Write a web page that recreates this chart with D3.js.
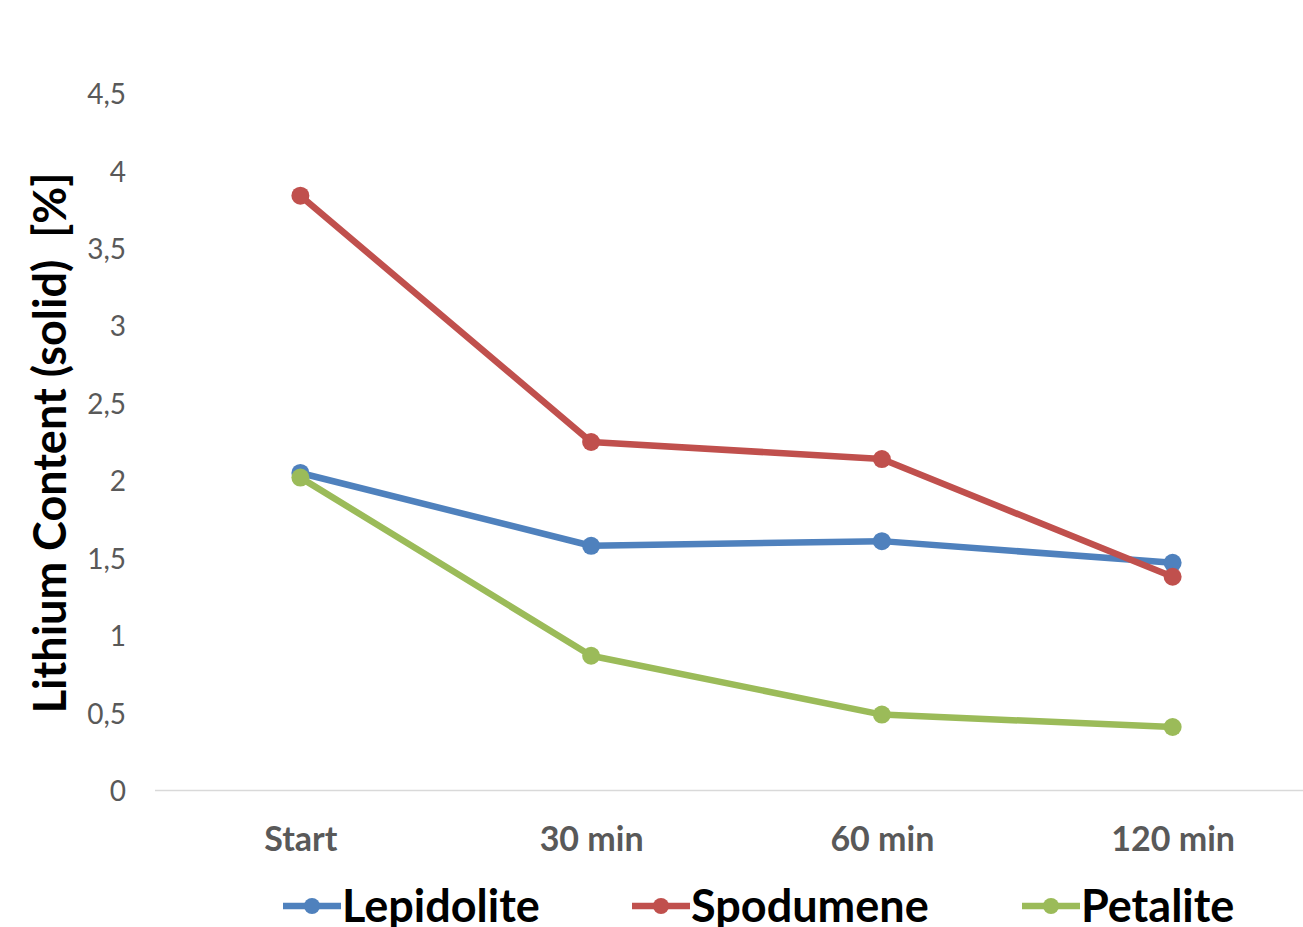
<!DOCTYPE html>
<html>
<head>
<meta charset="utf-8">
<script src="https://cdn.jsdelivr.net/npm/d3@7"></script>
<style>
  html, body { margin: 0; padding: 0; background: #ffffff; }
  svg { display: block; }
</style>
</head>
<body>
<svg id="chart" width="1303" height="927"></svg>
<script>
// Time steps of the leaching experiment
const categories = ["Start", "30 min", "60 min", "120 min"];

// Lithium content of the solid residue [%]
const lepidolite = [2.05, 1.58, 1.61, 1.47];
const spodumene  = [3.84, 2.25, 2.14, 1.38];
const petalite   = [2.02, 0.87, 0.49, 0.41];

const yTicks = [0, 0.5, 1, 1.5, 2, 2.5, 3, 3.5, 4, 4.5];

const seriesNames = ["Lepidolite", "Spodumene", "Petalite"];
const seriesColors = ["#4F81BD", "#C0504D", "#9BBB59"];
const seriesValues = [lepidolite, spodumene, petalite];

const svg = d3.select("#chart");

const x = d3.scalePoint()
  .domain(categories)
  .range([155, 1318])
  .padding(0.5);

const y = d3.scaleLinear()
  .domain([0, 4.5])
  .range([790.5, 93.5]);

const fmt = v => String(v).replace(".", ",");

// baseline
svg.append("line")
  .attr("x1", 155).attr("x2", 1303)
  .attr("y1", y(0)).attr("y2", y(0))
  .attr("stroke", "#d9d9d9")
  .attr("stroke-width", 1.5);

// y tick labels
const yAxis = d3.axisLeft(y)
  .tickValues(yTicks)
  .tickFormat(fmt)
  .tickSize(0)
  .tickPadding(0);

const gy = svg.append("g")
  .attr("transform", "translate(126,0)")
  .call(yAxis);
gy.select(".domain").remove();
gy.selectAll("text")
  .attr("fill", "#595959")
  .attr("dy", "0.36em")
  .style("font-family", "Lato, 'Open Sans', sans-serif")
  .style("font-size", "28px");

// category labels
const xAxis = d3.axisBottom(x).tickSize(0).tickPadding(0);
const gx = svg.append("g")
  .attr("transform", "translate(0,851)")
  .call(xAxis);
gx.select(".domain").remove();
gx.selectAll("text")
  .attr("fill", "#595959")
  .attr("dy", 0)
  .attr("y", 0)
  .style("font-family", "Lato, 'Open Sans', sans-serif")
  .style("font-weight", "bold")
  .style("font-size", "34px");

// y axis title
svg.append("text")
  .attr("transform", "translate(66,443) rotate(-90)")
  .attr("text-anchor", "middle")
  .attr("fill", "#000000")
  .style("font-family", "Lato, 'Open Sans', sans-serif")
  .style("font-weight", "bold")
  .style("font-size", "45px")
  .style("white-space", "pre")
  .text("Lithium Content (solid)  [%]");

// series lines and markers
const line = d3.line()
  .x((d, i) => x(categories[i]))
  .y(d => y(d));

seriesValues.forEach((vals, s) => {
  const g = svg.append("g");
  g.append("path")
    .datum(vals)
    .attr("d", line)
    .attr("fill", "none")
    .attr("stroke", seriesColors[s])
    .attr("stroke-width", 6.5)
    .attr("stroke-linejoin", "round");
  g.selectAll("circle")
    .data(vals)
    .join("circle")
    .attr("cx", (d, i) => x(categories[i]))
    .attr("cy", d => y(d))
    .attr("r", 9)
    .attr("fill", seriesColors[s]);
});

// legend
const legendX = [283, 632, 1022];
const legendY = 906;
seriesNames.forEach((name, s) => {
  const g = svg.append("g").attr("transform", `translate(${legendX[s]},${legendY})`);
  g.append("line")
    .attr("x1", 0).attr("x2", 58)
    .attr("y1", 0).attr("y2", 0)
    .attr("stroke", seriesColors[s])
    .attr("stroke-width", 6.5);
  g.append("circle")
    .attr("cx", 29).attr("cy", 0).attr("r", 8)
    .attr("fill", seriesColors[s]);
  g.append("text")
    .attr("x", 59).attr("y", 16)
    .attr("fill", "#000000")
    .style("font-family", "Lato, 'Open Sans', sans-serif")
    .style("font-weight", "bold")
    .style("font-size", "45px")
    .text(name);
});
</script>
</body>
</html>
